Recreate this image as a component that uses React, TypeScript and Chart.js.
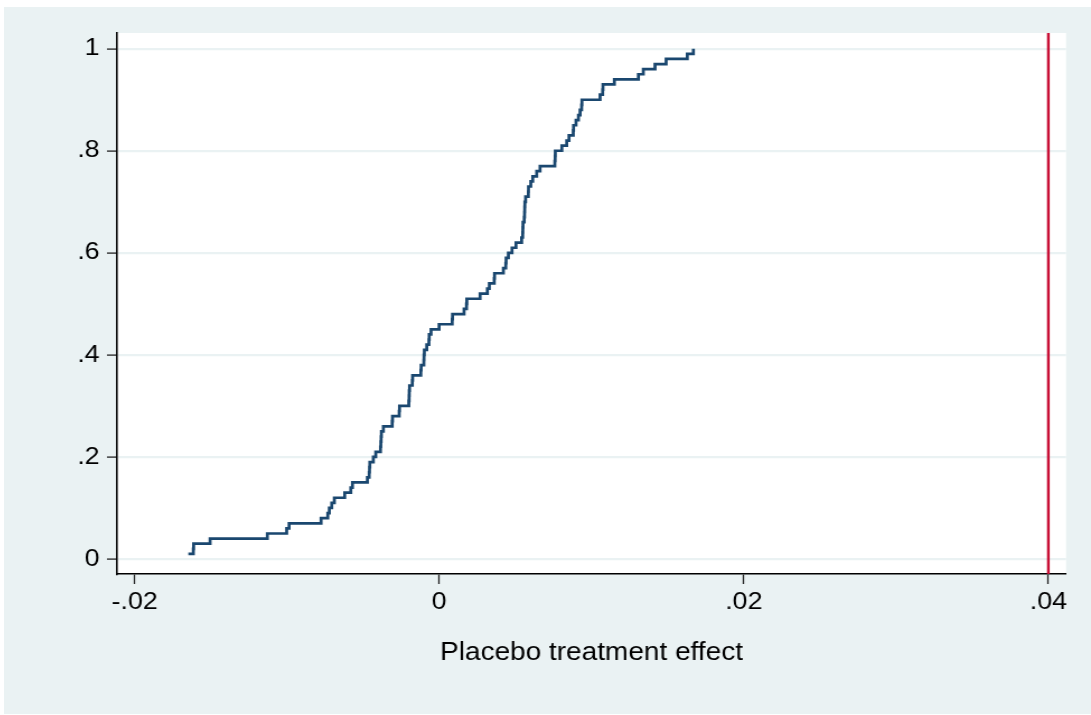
import React, { useEffect, useRef } from "react";
import { Chart, registerables } from "chart.js";

Chart.register(...registerables);

// Sorted placebo treatment effects (one per placebo run)
const PLACEBO_EFFECTS = [
  -0.01648, -0.01615, -0.01613, -0.01505, -0.01129, -0.01002, -0.00986, -0.00776, -0.00732, -0.00722,
  -0.00706, -0.00689, -0.00621, -0.00581, -0.0057, -0.00472, -0.0046, -0.00458, -0.00456, -0.00433,
  -0.00417, -0.00386, -0.00384, -0.00382, -0.0038, -0.00367, -0.00309, -0.00307, -0.00263, -0.00261,
  -0.002, -0.00198, -0.00197, -0.00195, -0.00177, -0.00175, -0.00121, -0.00119, -0.00101, -0.001,
  -0.00098, -0.00082, -0.00068, -0.00066, -0.00054, -0.00001, 0.00085, 0.00087, 0.00163, 0.00179,
  0.00181, 0.00268, 0.00316, 0.00329, 0.00361, 0.00363, 0.00421, 0.00437, 0.00439, 0.00454,
  0.00478, 0.00504, 0.00541, 0.00548, 0.00549, 0.0055, 0.00558, 0.0056, 0.00561, 0.00562,
  0.00567, 0.00585, 0.00586, 0.00601, 0.00614, 0.0064, 0.00662, 0.00759, 0.00761, 0.00762,
  0.00805, 0.00837, 0.00852, 0.0088, 0.00882, 0.00898, 0.00914, 0.00925, 0.00935, 0.00937,
  0.01056, 0.01073, 0.01075, 0.0115, 0.01308, 0.0134, 0.01417, 0.0149, 0.01629, 0.01669,
];

// Cumulative share of placebo runs
const CDF = [
  0.01, 0.02, 0.03, 0.04, 0.05, 0.06, 0.07, 0.08, 0.09, 0.1,
  0.11, 0.12, 0.13, 0.14, 0.15, 0.16, 0.17, 0.18, 0.19, 0.2,
  0.21, 0.22, 0.23, 0.24, 0.25, 0.26, 0.27, 0.28, 0.29, 0.3,
  0.31, 0.32, 0.33, 0.34, 0.35, 0.36, 0.37, 0.38, 0.39, 0.4,
  0.41, 0.42, 0.43, 0.44, 0.45, 0.46, 0.47, 0.48, 0.49, 0.5,
  0.51, 0.52, 0.53, 0.54, 0.55, 0.56, 0.57, 0.58, 0.59, 0.6,
  0.61, 0.62, 0.63, 0.64, 0.65, 0.66, 0.67, 0.68, 0.69, 0.7,
  0.71, 0.72, 0.73, 0.74, 0.75, 0.76, 0.77, 0.78, 0.79, 0.8,
  0.81, 0.82, 0.83, 0.84, 0.85, 0.86, 0.87, 0.88, 0.89, 0.9,
  0.91, 0.92, 0.93, 0.94, 0.95, 0.96, 0.97, 0.98, 0.99, 1.0,
];

const X_TICKS = [-0.02, 0, 0.02, 0.04];
const X_TICK_LABELS = ["-.02", "0", ".02", ".04"];
const Y_TICKS = [0, 0.2, 0.4, 0.6, 0.8, 1];
const Y_TICK_LABELS = ["0", ".2", ".4", ".6", ".8", "1"];
const X_LINE = 0.04; // actual treatment effect
const X_TITLE = "Placebo treatment effect";

const X_MIN = -0.021162;
const X_MAX = 0.041162;
const Y_MIN = -0.0294;
const Y_MAX = 1.0308;

const BG = "#eaf2f3";
const LINE_COLOR = "#1a476f";
const XLINE_COLOR = "#c80f35";
const FONT_FAMILY = "'Liberation Sans', Arial, Helvetica, sans-serif";

// Canvas is drawn narrower and stretched horizontally (like the source image)
const CSS_W = 1087;
const CSS_H = 707;
const STRETCH = 1.1195;
const INT_W = Math.round(CSS_W / STRETCH);

const plotBgPlugin = {
  id: "plotBg",
  beforeDraw(chart: any) {
    const { ctx, chartArea: a } = chart;
    ctx.save();
    ctx.fillStyle = "#ffffff";
    ctx.fillRect(a.left, a.top, a.right - a.left, a.bottom - a.top);
    ctx.restore();
  },
};

const xLinePlugin = {
  id: "xLine",
  afterDatasetsDraw(chart: any) {
    const { ctx, chartArea: a } = chart;
    const x = chart.scales.x.getPixelForValue(X_LINE);
    ctx.save();
    ctx.strokeStyle = XLINE_COLOR;
    ctx.lineWidth = 2.4;
    ctx.beginPath();
    ctx.moveTo(x, a.top);
    ctx.lineTo(x, a.bottom);
    ctx.stroke();
    ctx.restore();
  },
};

export default function App() {
  const ref = useRef<HTMLCanvasElement>(null);

  useEffect(() => {
    const canvas = ref.current;
    if (!canvas) return;
    const points = PLACEBO_EFFECTS.map((v, i) => ({ x: v, y: CDF[i] }));
    const chart = new Chart(canvas, {
      type: "line",
      data: {
        datasets: [
          {
            data: points,
            borderColor: LINE_COLOR,
            borderWidth: 2.7,
            pointRadius: 0,
            stepped: "before",
            fill: false,
          },
        ],
      },
      options: {
        animation: false,
        responsive: false,
        devicePixelRatio: 1,
        events: [],
        layout: { padding: { top: 26, right: 22.3, left: 0, bottom: 0 } },
        plugins: {
          legend: { display: false },
          tooltip: { enabled: false },
        },
        scales: {
          x: {
            type: "linear",
            min: X_MIN,
            max: X_MAX,
            afterBuildTicks: (scale: any) => {
              scale.ticks = X_TICKS.map((v) => ({ value: v }));
            },
            afterFit: (scale: any) => {
              scale.height = 140;
            },
            ticks: {
              autoSkip: false,
              maxRotation: 0,
              padding: 4,
              color: "#000",
              font: { family: FONT_FAMILY, size: 24 },
              callback: (_v: any, i: number) => X_TICK_LABELS[i],
            },
            grid: {
              display: true,
              drawOnChartArea: false,
              drawTicks: true,
              tickLength: 10,
              tickColor: "#222",
              tickWidth: 1.3,
            },
            border: { display: true, color: "#000", width: 1.6 },
            title: {
              display: true,
              text: X_TITLE,
              color: "#000",
              font: { family: FONT_FAMILY, size: 25 },
              padding: { top: 0, bottom: 46 },
            },
          },
          y: {
            type: "linear",
            min: Y_MIN,
            max: Y_MAX,
            afterBuildTicks: (scale: any) => {
              scale.ticks = Y_TICKS.map((v) => ({ value: v }));
            },
            afterFit: (scale: any) => {
              scale.width = 100.94;
            },
            ticks: {
              autoSkip: false,
              padding: 6.5,
              color: "#000",
              font: { family: FONT_FAMILY, size: 24 },
              callback: (_v: any, i: number) => Y_TICK_LABELS[i],
            },
            grid: {
              display: true,
              drawOnChartArea: true,
              color: BG,
              lineWidth: 2.2,
              drawTicks: true,
              tickLength: 9,
              tickColor: "#222",
              tickWidth: 1.3,
            },
            border: { display: true, color: "#000", width: 1.6 },
          },
        },
      } as any,
      plugins: [plotBgPlugin, xLinePlugin],
    });
    return () => chart.destroy();
  }, []);

  return (
    <div
      style={{
        position: "fixed",
        left: 4,
        top: 7,
        width: CSS_W,
        height: CSS_H,
        background: BG,
      }}
    >
      <canvas
        ref={ref}
        width={INT_W}
        height={CSS_H}
        style={{ width: CSS_W + "px", height: CSS_H + "px", display: "block" }}
      />
    </div>
  );
}
